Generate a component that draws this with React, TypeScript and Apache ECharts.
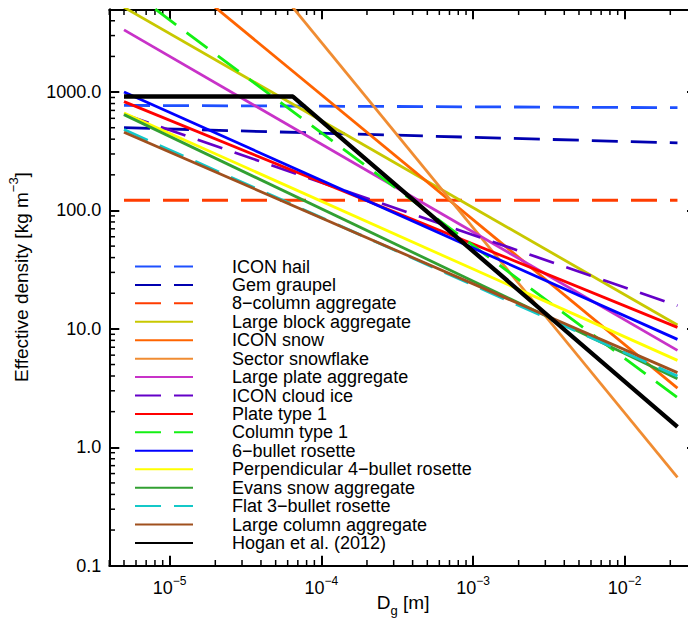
import React, { useEffect, useRef } from 'react';
import * as echarts from 'echarts';

// diameter range of the curves [m]
const X_START = 5e-6;
const X_END = 0.0223;
const HOGAN_BREAK = 6.5e-5;

const seriesNames = [
  'ICON hail',
  'Gem graupel',
  '8\u2212column aggregate',
  'Large block aggregate',
  'ICON snow',
  'Sector snowflake',
  'Large plate aggregate',
  'ICON cloud ice',
  'Plate type 1',
  'Column type 1',
  '6\u2212bullet rosette',
  'Perpendicular 4\u2212bullet rosette',
  'Evans snow aggregate',
  'Flat 3\u2212bullet rosette',
  'Large column aggregate',
  'Hogan et al. (2012)',
];

const seriesColors = [
  '#1e50ff', '#0000b0', '#ff3c00', '#c8c800', '#ff6400', '#f08c32', '#c832c8', '#6400c8',
  '#ff0000', '#14f014', '#0000ff', '#ffff00', '#32a032', '#14c8c8', '#a0501e', '#000000',
];

const seriesDashed = [
  true, true, true, false, false, false, false, true,
  false, true, false, false, false, true, false, false,
];

// effective density [kg m^-3] at X_START and X_END
const startValues = [772, 500, 122, 5190, 22400, 286000, 3350, 650, 830, 7870, 1000, 665, 645, 482, 458, 917];
const endValues = [738, 372, 122, 10.8, 3.16, 0.557, 6.58, 15.7, 10.3, 2.63, 8.15, 5.42, 3.8, 3.99, 4.27, 1.49];

const xMinorTicks = [
  4e-6, 5e-6, 6e-6, 7e-6, 8e-6, 9e-6,
  2e-5, 3e-5, 4e-5, 5e-5, 6e-5, 7e-5, 8e-5, 9e-5,
  2e-4, 3e-4, 4e-4, 5e-4, 6e-4, 7e-4, 8e-4, 9e-4,
  2e-3, 3e-3, 4e-3, 5e-3, 6e-3, 7e-3, 8e-3, 9e-3,
  2e-2,
];
const yMinorTicks = [
  0.2, 0.3, 0.4, 0.5, 0.6, 0.7, 0.8, 0.9,
  2, 3, 4, 5, 6, 7, 8, 9,
  20, 30, 40, 50, 60, 70, 80, 90,
  200, 300, 400, 500, 600, 700, 800, 900,
  2000, 3000, 4000,
];

const FONT = 'Liberation Sans';

const isDecade = (v: number) => {
  const e = Math.log10(v);
  return Math.abs(e - Math.round(e)) < 1e-6;
};

const App: React.FC = () => {
  const chartRef = useRef<HTMLDivElement>(null);

  useEffect(() => {
    if (!chartRef.current) return;
    const chart = echarts.init(chartRef.current, undefined, { renderer: 'svg' });

    const axisLine = { show: true, lineStyle: { color: '#000', width: 2 } };
    const axisTick = { show: true, inside: true, length: 10, lineStyle: { color: '#000', width: 2 } };

    const lineSeries = seriesNames.map((name, i) => {
      const data =
        i === 15
          ? [[X_START, startValues[i]], [HOGAN_BREAK, startValues[i]], [X_END, endValues[i]]]
          : [[X_START, startValues[i]], [X_END, endValues[i]]];
      return {
        name,
        type: 'line',
        data,
        symbol: 'none',
        showSymbol: false,
        silent: true,
        clip: true,
        xAxisIndex: 0,
        yAxisIndex: 0,
        itemStyle: { color: seriesColors[i] },
        lineStyle: {
          color: seriesColors[i],
          width: i === 15 ? 4.3 : 2.8,
          type: seriesDashed[i] ? [26, 13] : 'solid',
        },
      };
    });

    const option: any = {
      animation: false,
      backgroundColor: '#fff',
      grid: {
        left: 109.3,
        top: 9.3,
        width: 587.7,
        height: 556.4,
        containLabel: false,
        outerBoundsMode: 'none',
      },
      legend: {
        data: seriesNames,
        orient: 'vertical',
        left: 134,
        top: 257.5,
        padding: 0,
        itemGap: 0.43,
        itemWidth: 58,
        itemHeight: 14,
        selectedMode: false,
        itemStyle: { opacity: 0 },
        textStyle: {
          fontFamily: FONT,
          fontSize: 18,
          color: '#000',
          lineHeight: 18,
          padding: [0, 0, 0, 34],
        },
      },
      xAxis: [
        {
          type: 'log',
          logBase: 10,
          min: 4e-6,
          max: 0.03,
          position: 'bottom',
          axisLine,
          axisTick,
          splitLine: { show: false },
          axisLabel: {
            margin: 9,
            color: '#000',
            fontFamily: FONT,
            formatter: (v: number) =>
              isDecade(v) ? `{b|10}{s|\u2212${-Math.round(Math.log10(v))}}` : '',
            rich: {
              b: { fontFamily: FONT, fontSize: 18, lineHeight: 22, verticalAlign: 'bottom', color: '#000' },
              s: { fontFamily: FONT, fontSize: 12, lineHeight: 12, verticalAlign: 'top', color: '#000' },
            },
          },
          name: '{a|D}{g|g}{a| [m]}',
          nameLocation: 'middle',
          nameGap: 27,
          nameMoveOverlap: false,
          nameTextStyle: {
            rich: {
              a: { fontFamily: FONT, fontSize: 19, lineHeight: 24, verticalAlign: 'top', color: '#000' },
              g: { fontFamily: FONT, fontSize: 13, lineHeight: 13, verticalAlign: 'bottom', color: '#000' },
            },
          },
        },
        {
          type: 'log',
          logBase: 10,
          min: 4e-6,
          max: 0.03,
          position: 'top',
          axisLine,
          axisTick,
          splitLine: { show: false },
          axisLabel: { show: false },
        },
      ],
      yAxis: [
        {
          type: 'log',
          logBase: 10,
          min: 0.1,
          max: 5000,
          position: 'left',
          axisLine,
          axisTick,
          splitLine: { show: false },
          axisLabel: {
            margin: 8,
            color: '#000',
            fontFamily: FONT,
            fontSize: 18,
            formatter: (v: number) => (isDecade(v) ? Math.pow(10, Math.round(Math.log10(v))).toFixed(1) : ''),
          },
          name: '{a|Effective density [kg m}{s|\u22123}{a|]}',
          nameLocation: 'middle',
          nameGap: 78,
          nameMoveOverlap: false,
          nameTextStyle: {
            padding: [0, 0, 0, 21],
            rich: {
              a: { fontFamily: FONT, fontSize: 19, lineHeight: 24, verticalAlign: 'bottom', color: '#000' },
              s: { fontFamily: FONT, fontSize: 13, lineHeight: 13, verticalAlign: 'top', color: '#000' },
            },
          },
        },
        {
          type: 'log',
          logBase: 10,
          min: 0.1,
          max: 5000,
          position: 'right',
          axisLine,
          axisTick,
          splitLine: { show: false },
          axisLabel: { show: false },
        },
      ],
      series: [
        ...lineSeries,
        {
          name: 'xMinor',
          type: 'custom',
          silent: true,
          xAxisIndex: 0,
          yAxisIndex: 0,
          data: xMinorTicks.map((v) => [v, 0.1]),
          renderItem: (params: any, api: any) => {
            const p = api.coord([api.value(0), api.value(1)]);
            const cs = params.coordSys;
            const style = { stroke: '#000', lineWidth: 1.5 };
            return {
              type: 'group',
              children: [
                { type: 'line', shape: { x1: p[0], y1: cs.y + cs.height, x2: p[0], y2: cs.y + cs.height - 5.7 }, style },
                { type: 'line', shape: { x1: p[0], y1: cs.y, x2: p[0], y2: cs.y + 5.7 }, style },
              ],
            };
          },
        },
        {
          name: 'yMinor',
          type: 'custom',
          silent: true,
          xAxisIndex: 0,
          yAxisIndex: 0,
          data: yMinorTicks.map((v) => [4e-6, v]),
          renderItem: (params: any, api: any) => {
            const p = api.coord([api.value(0), api.value(1)]);
            const cs = params.coordSys;
            const style = { stroke: '#000', lineWidth: 1.5 };
            return {
              type: 'group',
              children: [
                { type: 'line', shape: { x1: cs.x, y1: p[1], x2: cs.x + 5.7, y2: p[1] }, style },
                { type: 'line', shape: { x1: cs.x + cs.width, y1: p[1], x2: cs.x + cs.width - 5.7, y2: p[1] }, style },
              ],
            };
          },
        },
      ],
    };

    chart.setOption(option);

    return () => {
      chart.dispose();
    };
  }, []);

  return (
    <div
      style={{
        position: 'fixed',
        left: 0,
        top: 0,
        width: 688,
        height: 618,
        overflow: 'hidden',
        background: '#fff',
      }}
    >
      <div ref={chartRef} style={{ width: 720, height: 618 }} />
    </div>
  );
};

export default App;
